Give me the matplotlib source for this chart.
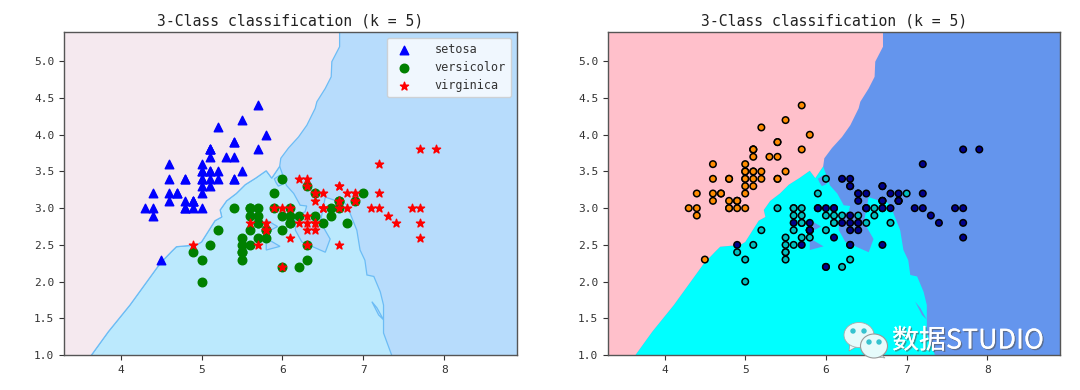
"""
Iris 3-class KNN decision regions (k = 5), sepal length vs sepal width.
Region outlines are read off the picture, the classifier itself isn't available.

Writes:
    out.png
"""
import matplotlib
matplotlib.use("Agg")  # headless
import matplotlib.patheffects as pe
import matplotlib.pyplot as plt
import numpy as np
from matplotlib.colors import ListedColormap
from matplotlib.patches import Ellipse, Polygon

CLASS_NAMES = ["setosa", "versicolor", "virginica"]

SETOSA_X = [5.1, 4.9, 4.7, 4.6, 5.0, 5.4, 4.6, 5.0, 4.4, 4.9, 5.4, 4.8, 4.8, 4.3, 5.8, 5.7, 5.4,
            5.1, 5.7, 5.1, 5.4, 5.1, 4.6, 5.1, 4.8, 5.0, 5.0, 5.2, 5.2, 4.7, 4.8, 5.4, 5.2, 5.5,
            4.9, 5.0, 5.5, 4.9, 4.4, 5.1, 5.0, 4.5, 4.4, 5.0, 5.1, 4.8, 5.1, 4.6, 5.3, 5.0]
SETOSA_Y = [3.5, 3.0, 3.2, 3.1, 3.6, 3.9, 3.4, 3.4, 2.9, 3.1, 3.7, 3.4, 3.0, 3.0, 4.0, 4.4, 3.9,
            3.5, 3.8, 3.8, 3.4, 3.7, 3.6, 3.3, 3.4, 3.0, 3.4, 3.5, 3.4, 3.2, 3.1, 3.4, 4.1, 4.2,
            3.1, 3.2, 3.5, 3.1, 3.0, 3.4, 3.5, 2.3, 3.2, 3.5, 3.8, 3.0, 3.8, 3.2, 3.7, 3.3]
VERSICOLOR_X = [7.0, 6.4, 6.9, 5.5, 6.5, 5.7, 6.3, 4.9, 6.6, 5.2, 5.0, 5.9, 6.0, 6.1, 5.6, 6.7, 5.6,
                5.8, 6.2, 5.6, 5.9, 6.1, 6.3, 6.1, 6.4, 6.6, 6.8, 6.7, 6.0, 5.7, 5.5, 5.5, 5.8, 6.0,
                5.4, 6.0, 6.7, 6.3, 5.6, 5.5, 5.5, 6.1, 5.8, 5.0, 5.6, 5.7, 5.7, 6.2, 5.1, 5.7]
VERSICOLOR_Y = [3.2, 3.2, 3.1, 2.3, 2.8, 2.8, 3.3, 2.4, 2.9, 2.7, 2.0, 3.0, 2.2, 2.9, 2.9, 3.1, 3.0,
                2.7, 2.2, 2.5, 3.2, 2.8, 2.5, 2.8, 2.9, 3.0, 2.8, 3.0, 2.9, 2.6, 2.4, 2.4, 2.7, 2.7,
                3.0, 3.4, 3.1, 2.3, 3.0, 2.5, 2.6, 3.0, 2.6, 2.3, 2.7, 3.0, 2.9, 2.9, 2.5, 2.8]
VIRGINICA_X = [6.3, 5.8, 7.1, 6.3, 6.5, 7.6, 4.9, 7.3, 6.7, 7.2, 6.5, 6.4, 6.8, 5.7, 5.8, 6.4, 6.5,
               7.7, 7.7, 6.0, 6.9, 5.6, 7.7, 6.3, 6.7, 7.2, 6.2, 6.1, 6.4, 7.2, 7.4, 7.9, 6.4, 6.3,
               6.1, 7.7, 6.3, 6.4, 6.0, 6.9, 6.7, 6.9, 5.8, 6.8, 6.7, 6.7, 6.3, 6.5, 6.2, 5.9]
VIRGINICA_Y = [3.3, 2.7, 3.0, 2.9, 3.0, 3.0, 2.5, 2.9, 2.5, 3.6, 3.2, 2.7, 3.0, 2.5, 2.8, 3.2, 3.0,
               3.8, 2.6, 2.2, 3.2, 2.8, 2.8, 2.7, 3.3, 3.2, 2.8, 3.0, 2.8, 3.0, 2.8, 3.8, 2.8, 2.8,
               2.6, 3.0, 3.4, 3.1, 3.0, 3.1, 3.1, 3.1, 2.7, 3.2, 3.3, 3.0, 2.5, 3.0, 3.4, 3.0]

# boundary setosa / virginica, top edge down to the apex
UPPER_EDGE_X = [6.707, 6.707, 6.611, 6.603, 6.529, 6.426, 6.405, 6.302, 6.199, 6.075, 5.98, 5.966]
UPPER_EDGE_Y = [5.4, 5.20, 4.996, 4.79, 4.63, 4.45, 4.36, 4.13, 3.97, 3.82, 3.68, 3.57]
# boundary setosa / versicolor, apex down to the bottom edge
LOWER_EDGE_X = [5.966, 5.868, 5.80, 5.67, 5.54, 5.43, 5.31, 5.23, 5.25, 5.167, 5.0, 4.94, 4.69,
                4.63, 4.49, 4.115, 3.85, 3.64]
LOWER_EDGE_Y = [3.57, 3.41, 3.51, 3.41, 3.32, 3.20, 3.10, 2.975, 2.88, 2.83, 2.54, 2.50, 2.475,
                2.41, 2.25, 1.68, 1.32, 1.0]
# boundary versicolor / virginica, apex down to the bottom edge
RIGHT_EDGE_X = [5.966, 6.05, 6.14, 6.22, 6.30, 6.28, 6.16, 6.16, 6.24, 6.53, 6.59, 6.47, 6.53,
                6.67, 6.73, 6.80, 6.84, 6.92, 6.96, 7.02, 7.045, 7.13, 7.21, 7.25, 7.25, 7.35]
RIGHT_EDGE_Y = [3.57, 3.31, 3.20, 3.04, 3.03, 2.95, 2.90, 2.70, 2.54, 2.40, 2.58, 2.81, 3.15,
                3.10, 3.10, 3.04, 2.92, 2.70, 2.43, 2.29, 2.09, 2.07, 1.86, 1.68, 1.30, 1.0]
# small virginica islands inside the versicolor region
ISLANDS_X = [[5.90, 5.97, 6.01, 5.95, 5.92],
             [5.80, 5.94, 5.82],
             [5.80, 5.97, 5.80],
             [7.106, 7.17, 7.25, 7.19]]
ISLANDS_Y = [[3.40, 3.45, 3.33, 3.30, 3.35],
             [2.84, 2.75, 2.68],
             [2.59, 2.48, 2.43],
             [1.726, 1.64, 1.48, 1.545]]

X_TICKS = [4, 5, 6, 7, 8]
Y_TICKS = [1.0, 1.5, 2.0, 2.5, 3.0, 3.5, 4.0, 4.5, 5.0]
K = 5

MONO = "DejaVu Sans Mono"
OFF_AXES = 0.3  # closing vertices sit outside the limits so their edges get clipped away


def draw_regions(ax, x, y, colors, edge=None):
    """Virginica is the axes background; the other regions are laid over it."""
    xmin, ymin = x.min() - 1 - OFF_AXES, y.min() - 1 - OFF_AXES
    ymax = y.max() + 1 + OFF_AXES
    style = {"edgecolor": edge if edge else "none", "linewidth": 0.9 if edge else 0}
    ax.set_facecolor(colors[2])
    ax.fill(RIGHT_EDGE_X + [RIGHT_EDGE_X[-1], LOWER_EDGE_X[-1]] + LOWER_EDGE_X[::-1],
            RIGHT_EDGE_Y + [ymin, ymin] + LOWER_EDGE_Y[::-1],
            facecolor=colors[1], **style)
    ax.fill([xmin, UPPER_EDGE_X[0]] + UPPER_EDGE_X + LOWER_EDGE_X + [LOWER_EDGE_X[-1], xmin],
            [ymax, ymax] + UPPER_EDGE_Y + LOWER_EDGE_Y + [ymin, ymin],
            facecolor=colors[0], **style)
    for ix, iy in zip(ISLANDS_X, ISLANDS_Y):
        ax.fill(ix, iy, facecolor=colors[2], **style)


def style_axes(ax, x, y):
    ax.set_xlim(x.min() - 1, x.max() + 1)
    ax.set_ylim(y.min() - 1, y.max() + 1)
    ax.set_xticks(X_TICKS)
    ax.set_yticks(Y_TICKS)
    ax.tick_params(labelsize=8, colors="#333333", length=3.5, width=0.8)
    for label in ax.get_xticklabels() + ax.get_yticklabels():
        label.set_family(MONO)
    for spine in ax.spines.values():
        spine.set_color("#555555")
        spine.set_linewidth(1.0)
    ax.set_title(f"3-Class classification (k = {K})", family=MONO, fontsize=10.6,
                 color="#222222", pad=5)


def draw_watermark(fig):
    """WeChat-style bubble logo plus the account name, in picture pixels."""
    over = fig.add_axes([0, 0, 1, 1], zorder=10)
    over.set_xlim(0, 1080)
    over.set_ylim(390, 0)
    over.axis("off")
    fill = "#e6fbfb"
    over.add_patch(Polygon([[850, 343], [849, 351], [858, 346]], fc=fill, ec="#999999", lw=0.5))
    over.add_patch(Ellipse((859, 335), 30, 25, fc=fill, ec="#aaaaaa", lw=0.6))
    over.add_patch(Polygon([[878, 352], [885, 358], [872, 356]], fc=fill, ec="#999999", lw=0.5))
    over.add_patch(Ellipse((874, 346), 27, 24, fc=fill, ec="#999999", lw=0.8))
    for cx, cy in [(853, 331), (864, 331), (869, 342), (879, 342)]:
        over.add_patch(Ellipse((cx, cy), 4, 4, color="#35c3cf"))
    over.text(892, 341, "数据STUDIO", family=["Noto Sans CJK SC", "DejaVu Sans"], fontsize=19.4,
              color="white", va="center", ha="left",
              path_effects=[pe.withSimplePatchShadow(offset=(1, -1), shadow_rgbFace="#555555",
                                                     alpha=0.6), pe.Normal()])


def main() -> None:
    x = np.array(SETOSA_X + VERSICOLOR_X + VIRGINICA_X)
    y = np.array(SETOSA_Y + VERSICOLOR_Y + VIRGINICA_Y)
    labels = np.repeat([0, 1, 2], 50)

    fig = plt.figure(figsize=(10.8, 3.9), dpi=100)
    ax1 = fig.add_axes([64 / 1080, 1 - 355 / 390, 453 / 1080, 323 / 390])
    ax2 = fig.add_axes([608 / 1080, 1 - 355 / 390, 452 / 1080, 323 / 390])

    # ----- Left: pale outlined regions with the raw classes on top -----
    draw_regions(ax1, x, y, ["#f5e9ef", "#bbe9fd", "#b7dcfc"], edge="#6cbcf5")
    markers = ["^", "o", "*"]
    colors = ["blue", "green", "red"]
    for c, (name, marker, color) in enumerate(zip(CLASS_NAMES, markers, colors)):
        ax1.scatter(x[labels == c], y[labels == c], marker=marker, color=color, s=38,
                    label=name, zorder=3)
    ax1.legend(loc="upper right", prop={"family": MONO, "size": 8.5}, labelcolor="#333333",
               handletextpad=1.6, borderpad=0.45, labelspacing=0.42)
    style_axes(ax1, x, y)

    # ----- Right: solid regions with edge-coloured points -----
    draw_regions(ax2, x, y, ["#ffc0cb", "#00ffff", "#6495ed"])
    ax2.scatter(x, y, c=labels, cmap=ListedColormap(["darkorange", "c", "darkblue"]),
                edgecolor="k", s=22, linewidths=1.1, zorder=3)
    style_axes(ax2, x, y)

    draw_watermark(fig)
    fig.savefig("out.png", dpi=100)
    plt.close(fig)


if __name__ == "__main__":
    main()
